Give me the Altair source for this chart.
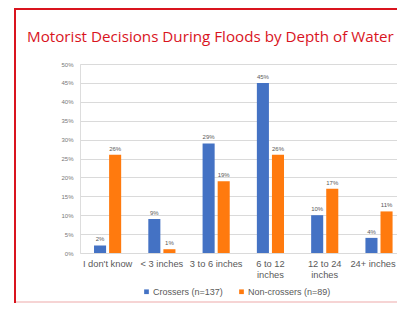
import altair as alt
import pandas as pd

categories = ["I don't know", "< 3 inches", "3 to 6 inches", "6 to 12|inches", "12 to 24|inches", "24+ inches"]
series = ["Crossers (n=137)", "Non-crossers (n=89)"]
crossers = [0.02, 0.09, 0.29, 0.45, 0.10, 0.04]
non_crossers = [0.26, 0.01, 0.19, 0.26, 0.17, 0.11]
y_ticks = [0, 0.05, 0.10, 0.15, 0.20, 0.25, 0.30, 0.35, 0.40, 0.45, 0.50]
title_text = ["Motorist Decisions During Floods by Depth of Water"]

rows = []
for c, a, b in zip(categories, crossers, non_crossers):
    rows.append({"cat": c, "series": series[0], "value": a})
    rows.append({"cat": c, "series": series[1], "value": b})
df = pd.DataFrame(rows)

BLUE = "#4472C4"
ORANGE = "#FF7A0E"
RED = "#D9141E"

x_enc = alt.X("cat:N", sort=categories, title=None,
              scale=alt.Scale(paddingInner=0.5, paddingOuter=0.17, align=0.76),
              axis=alt.Axis(labelAngle=0, labelExpr="split(datum.label, '|')",
                            labelFontSize=9.3, labelColor="#595959", labelFont="Liberation Sans",
                            labelOffset={"condition": {"test": "datum.value == '24+ inches'", "value": -6},
                                         "value": 0},
                            ticks=False, domain=False, labelPadding=6, labelLimit=80,
                            labelLineHeight=11, grid=False))
xoff = alt.XOffset("series:N", sort=series, scale=alt.Scale(paddingInner=0.2, paddingOuter=0))
y_enc = alt.Y("value:Q", title=None,
              scale=alt.Scale(domain=[0, 0.5], nice=False),
              axis=alt.Axis(values=y_ticks, format=".0%", labelFontSize=6, labelColor="#777777",
                            labelFont="Liberation Sans", ticks=False, domain=False,
                            labelOverlap=False, grid=True,
                            gridColor="#DADADA", gridWidth=1, labelPadding=7))

bars = alt.Chart(df).mark_bar().encode(
    x=x_enc, xOffset=xoff, y=y_enc,
    color=alt.Color("series:N", sort=series,
                    scale=alt.Scale(domain=series, range=[BLUE, ORANGE]),
                    legend=alt.Legend(title=None, orient="none", direction="horizontal",
                                      legendX=62, legendY=223, symbolType="square",
                                      symbolSize=22, labelFontSize=9, labelColor="#595959",
                                      labelFont="Liberation Sans", columnPadding=14,
                                      symbolOffset=0, labelOffset=2))
)

labels = alt.Chart(df).mark_text(dy=-6, fontSize=6, color="#595959", font="Liberation Sans").encode(
    x=x_enc, xOffset=xoff, y=y_enc,
    text=alt.Text("value:Q", format=".0%")
)

frame_df = pd.DataFrame({"t": title_text})
title = alt.Chart(frame_df).mark_text(align="left", baseline="middle", fontSize=15.2,
                                      font="Open Sans", color=RED).encode(
    x=alt.value(-53), y=alt.value(-27), text="t:N"
)
left_edge = alt.Chart(frame_df).mark_rule(color=RED, strokeWidth=2).encode(
    x=alt.value(-65), y=alt.value(-56), y2=alt.value(240)
)
top_edge = alt.Chart(frame_df).mark_rule(color=RED, strokeWidth=2).encode(
    x=alt.value(-66), x2=alt.value(400), y=alt.value(-55)
)
bottom_edge = alt.Chart(frame_df).mark_rule(color="#F6D4D4", strokeWidth=2).encode(
    x=alt.value(-64), x2=alt.value(400), y=alt.value(238)
)

chart = alt.layer(bars, labels, left_edge, top_edge, bottom_edge, title).properties(
    width=317, height=189,
    autosize=alt.AutoSizeParams(type="none"),
    padding={"left": 72, "right": 0, "top": 56, "bottom": 50},
).configure_view(stroke=None).configure(background="white")

chart.save("out.html", embed_options={"renderer": "svg", "actions": False})
